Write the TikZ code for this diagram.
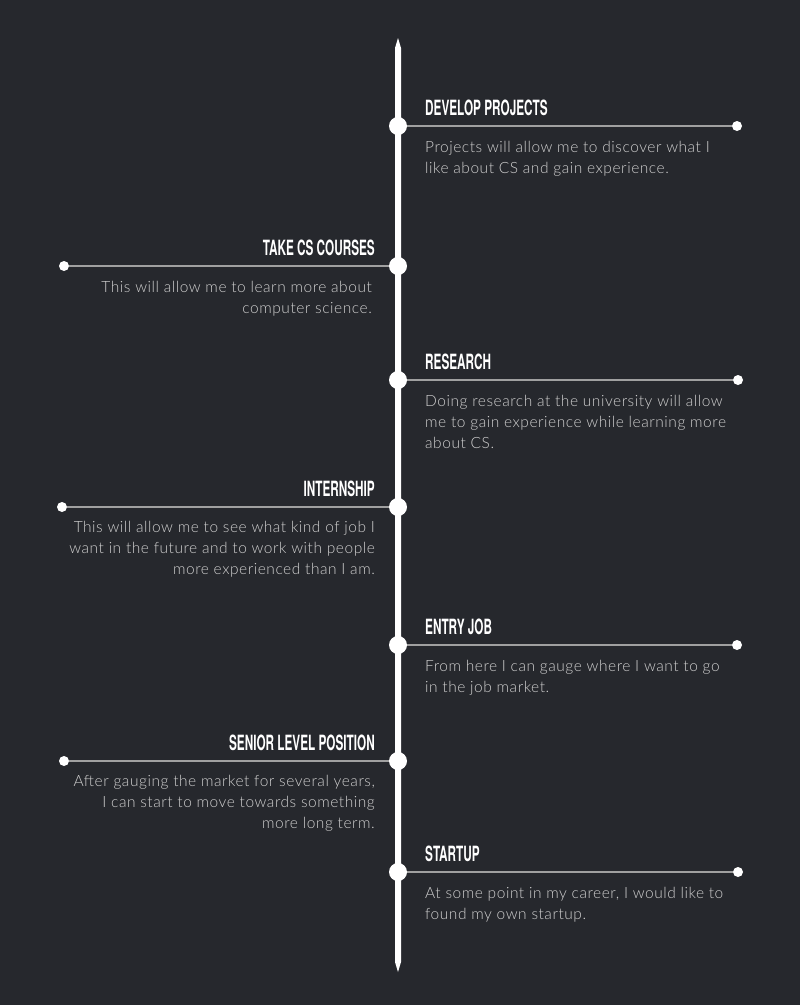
\documentclass[tikz,border=0pt]{standalone}
\usepackage{fontspec}
\setmainfont{Lato}[UprightFont=* Light, LetterSpace=3.5]
\newfontfamily\headfont{TeX Gyre Heros}[FakeStretch=0.56]
\definecolor{bg}{HTML}{26282D}
\definecolor{rulegrey}{HTML}{A0A0A0}
\definecolor{bodygrey}{HTML}{D0D0D0}
\begin{document}
\begin{tikzpicture}[x=1pt,y=-1pt,
  hub/.style={circle,fill=white,minimum size=18pt,inner sep=0pt},
  tip/.style={circle,fill=white,minimum size=10pt,inner sep=0pt},
  link/.style={rulegrey,line width=2pt},
  heading/.style={text=white,font=\headfont\bfseries\fontsize{21}{21}\selectfont,inner sep=0pt},
  noteR/.style={text=bodygrey,font=\fontsize{15.5}{21}\selectfont,inner sep=0pt,align=left,anchor=north west},
  noteL/.style={text=bodygrey,font=\fontsize{15.5}{21}\selectfont,inner sep=0pt,align=right,anchor=north east},
]
% canvas
\fill[bg] (0,0) rectangle (800,1005);

% central spine with pointed ends
\coordinate (top) at (398,38);
\coordinate (bottom) at (398,972);
\fill[white] (top) -- (401,48) -- (401,962) -- (bottom) -- (395,962) -- (395,48) -- cycle;

% 1 develop projects
\node[hub] (h1) at (398,126) {};
\node[tip] (t1) at (737,126) {};
\draw[link] (h1) -- (t1);
\node[heading,anchor=base west] (k1) at (425,115) {DEVELOP PROJECTS};
\node[noteR] (n1) at (425,141) {Projects will allow me to discover what I\\like about CS and gain experience.};

% 2 take cs courses
\node[hub] (h2) at (398,266) {};
\node[tip] (t2) at (64,266) {};
\draw[link] (h2) -- (t2);
\node[heading,anchor=base east] (k2) at (375,255) {TAKE CS COURSES};
\node[noteL] (n2) at (372,281) {This will allow me to learn more about\\computer science.};

% 3 research
\node[hub] (h3) at (398,380) {};
\node[tip] (t3) at (738,380) {};
\draw[link] (h3) -- (t3);
\node[heading,anchor=base west] (k3) at (425,369) {RESEARCH};
\node[noteR] (n3) at (425,395) {Doing research at the university will allow\\me to gain experience while learning more\\about CS.};

% 4 internship
\node[hub] (h4) at (398,507) {};
\node[tip] (t4) at (62,507) {};
\draw[link] (h4) -- (t4);
\node[heading,anchor=base east] (k4) at (375,496) {INTERNSHIP};
\node[noteL] (n4) at (375,521) {This will allow me to see what kind of job I\\want in the future and to work with people\\more experienced than I am.};

% 5 entry job
\node[hub] (h5) at (398,645) {};
\node[tip] (t5) at (737,645) {};
\draw[link] (h5) -- (t5);
\node[heading,anchor=base west] (k5) at (425,634) {ENTRY JOB};
\node[noteR] (n5) at (425,660) {From here I can gauge where I want to go\\in the job market.};

% 6 senior level position
\node[hub] (h6) at (398,761) {};
\node[tip] (t6) at (64,761) {};
\draw[link] (h6) -- (t6);
\node[heading,anchor=base east] (k6) at (375,750) {SENIOR LEVEL POSITION};
\node[noteL] (n6) at (375,775) {After gauging the market for several years,\\I can start to move towards something\\more long term.};

% 7 startup
\node[hub] (h7) at (398,872) {};
\node[tip] (t7) at (738,872) {};
\draw[link] (h7) -- (t7);
\node[heading,anchor=base west] (k7) at (425,861) {STARTUP};
\node[noteR] (n7) at (425,887) {At some point in my career, I would like to\\found my own startup.};
\end{tikzpicture}
\end{document}
